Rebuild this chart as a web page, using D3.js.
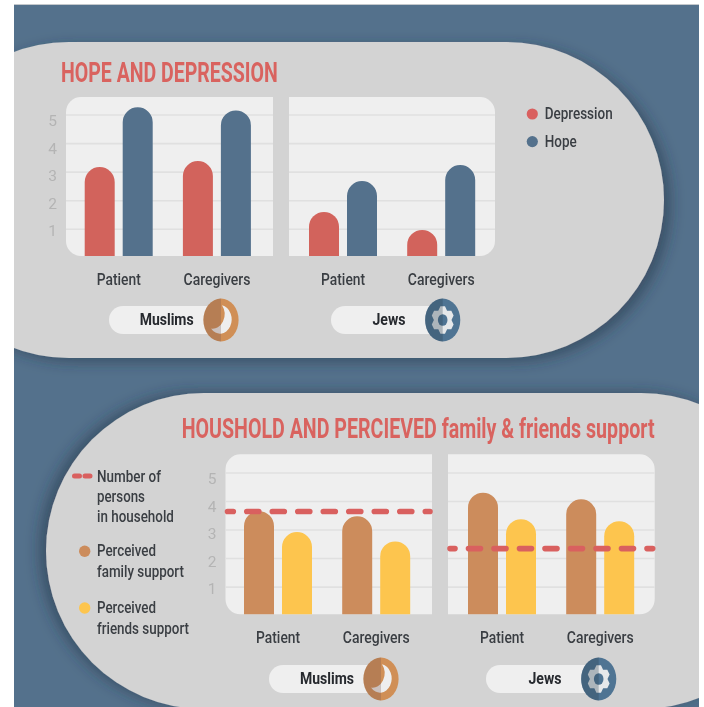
<!DOCTYPE html>
<html>
<head>
<meta charset="utf-8">
<title>Hope and depression</title>
<script src="https://cdn.jsdelivr.net/npm/d3@7"></script>
<style>
  html, body { margin: 0; padding: 0; background: #fff; }
  svg { display: block; filter: blur(0.45px); }
  text { font-family: Roboto, sans-serif; }
</style>
</head>
<body>
<div id="canvas"></div>
<script>
"use strict"

/* Data */
let groups = ["Patient", "Caregivers"];
let yTicks = [1, 2, 3, 4, 5];

let depressionMuslims = [3.18, 3.39];
let hopeMuslims = [5.27, 5.16];
let depressionJews = [1.61, 0.98];
let hopeJews = [2.69, 3.25];

let familyMuslims = [3.66, 3.48];
let friendsMuslims = [2.93, 2.6];
let familyJews = [4.31, 4.08];
let friendsJews = [3.38, 3.31];
let householdMuslims = 3.65;
let householdJews = 2.35;

/* Colours */
let blue = "#54718c";
let red = "#d2635c";
let dashRed = "#d9605f";
let brown = "#cc8c5c";
let yellow = "#fdc54e";
let gray = "#d3d3d3";
let light = "#efefef";
let gridColor = "#e0e0e0";
let labelColor = "#3a3e43";

/* Drawing canvas */
let svgWidth = 704;
let svgHeight = 707;

let svg = d3.select("#canvas")
    .append("svg")
    .attr("width", svgWidth)
    .attr("height", svgHeight);

let defs = svg.append("defs");

defs.append("clipPath").attr("id", "bgClip")
    .append("rect")
    .attr("x", 14).attr("y", 5)
    .attr("width", 685).attr("height", 702);

// soft shadows under the two big gray shapes
function addShadow(id, dx, dy) {
    let f = defs.append("filter").attr("id", id)
        .attr("x", "-10%").attr("y", "-15%")
        .attr("width", "120%").attr("height", "130%");
    f.append("feDropShadow")
        .attr("dx", dx).attr("dy", dy)
        .attr("stdDeviation", 7)
        .attr("flood-color", "#1f3242")
        .attr("flood-opacity", 0.5);
}
addShadow("shadowTop", 7, 4);
addShadow("shadowBottom", -7, -1);

/* Background */
svg.append("rect")
    .attr("x", 14).attr("y", 4)
    .attr("width", 685).attr("height", 1.5)
    .attr("fill", "#c4c8cc");

svg.append("rect")
    .attr("x", 14).attr("y", 5)
    .attr("width", 685).attr("height", 702)
    .attr("fill", blue);

let bg = svg.append("g").attr("clip-path", "url(#bgClip)");

bg.append("rect")
    .attr("x", -89).attr("y", 42)
    .attr("width", 753).attr("height", 316)
    .attr("rx", 158)
    .attr("fill", gray)
    .attr("filter", "url(#shadowTop)");

bg.append("rect")
    .attr("x", 46).attr("y", 393)
    .attr("width", 753).attr("height", 316)
    .attr("rx", 158)
    .attr("fill", gray)
    .attr("filter", "url(#shadowBottom)");

/* Text helper: the source font is narrow, so each text is squeezed to its width */
function addText(x, y, str, size, color, width, weight) {
    let t = svg.append("text")
        .attr("font-size", size)
        .attr("fill", color)
        .attr("font-weight", weight || 500)
        .text(str);
    let natural = t.node().getComputedTextLength();
    t.attr("transform", "translate(" + x + "," + y + ") scale(" + (width / natural) + ",1)");
    return t;
}

/* Bar with a round top and a flat bottom */
function barPath(x, w, top, bottom) {
    let r = w / 2;
    return "M" + x + "," + bottom
        + "V" + (top + r)
        + "A" + r + "," + r + " 0 0 1 " + (x + w) + "," + (top + r)
        + "V" + bottom + "Z";
}

/* Panel with two rounded corners on one side */
function panelPath(x0, x1, y0, y1, side) {
    let r = 15;
    if (side === "left") {
        return "M" + x1 + "," + y0 + "H" + (x0 + r)
            + "A" + r + "," + r + " 0 0 0 " + x0 + "," + (y0 + r)
            + "V" + (y1 - r)
            + "A" + r + "," + r + " 0 0 0 " + (x0 + r) + "," + y1
            + "H" + x1 + "Z";
    }
    return "M" + x0 + "," + y0 + "H" + (x1 - r)
        + "A" + r + "," + r + " 0 0 1 " + x1 + "," + (y0 + r)
        + "V" + (y1 - r)
        + "A" + r + "," + r + " 0 0 1 " + (x1 - r) + "," + y1
        + "H" + x0 + "Z";
}

/* One chart panel: background, gridlines, grouped bars, group labels */
function drawPanel(opt) {
    let yScale = d3.scaleLinear().domain([0, 5]).range([opt.y0, opt.y5]);

    svg.append("path")
        .attr("d", panelPath(opt.x0, opt.x1, opt.top, opt.bottom, opt.side))
        .attr("fill", light);

    svg.selectAll(null)
        .data(yTicks)
        .join("line")
        .attr("x1", opt.x0)
        .attr("x2", opt.x1)
        .attr("y1", d => yScale(d))
        .attr("y2", d => yScale(d))
        .attr("stroke", gridColor)
        .attr("stroke-width", 1.6);

    let xScale = d3.scaleBand()
        .domain(groups)
        .range([opt.groupStart, opt.groupStart + 196.4]);

    let subScale = d3.scaleBand()
        .domain([0, 1])
        .range([15, 83])
        .paddingInner(8 / 38);

    groups.forEach(function(g, i) {
        [opt.first, opt.second].forEach(function(series, s) {
            svg.append("path")
                .attr("d", barPath(xScale(g) + subScale(s), subScale.bandwidth(),
                    yScale(series.values[i]), opt.bottom))
                .attr("fill", series.color);
        });
        let w = g === "Patient" ? 44 : 67;
        addText(xScale(g) + xScale.bandwidth() / 2 - w / 2, opt.labelY, g, 16.5, labelColor, w);
    });

    // household line, round ends make the dashes longer
    if (opt.line !== undefined) {
        svg.append("line")
            .attr("x1", opt.x0 + 2)
            .attr("x2", opt.x1 - 2)
            .attr("y1", yScale(opt.line))
            .attr("y2", yScale(opt.line))
            .attr("stroke", dashRed)
            .attr("stroke-width", 5.6)
            .attr("stroke-linecap", "round")
            .attr("stroke-dasharray", "12 13.5")
            .attr("stroke-dashoffset", opt.dashOffset);
    }

    return yScale;
}

/* Y axis numbers have their own, slightly tighter spacing than the gridlines */
function drawAxis(axisX, y1, y5) {
    let labelScale = d3.scaleLinear().domain([1, 5]).range([y1, y5]);

    let axis = d3.axisLeft(labelScale)
        .tickValues(yTicks)
        .tickSize(0)
        .tickPadding(9)
        .tickFormat(d3.format("d"));

    let g = svg.append("g")
        .attr("transform", "translate(" + axisX + ",0)")
        .call(axis);

    g.select(".domain").remove();
    g.selectAll("text")
        .attr("font-size", 15.5)
        .attr("font-family", "Roboto, sans-serif")
        .attr("fill", "#b4b4b4");
}

/* Pill with the crescent or the gear on its right end */
function drawPill(x0, iconX, iconY, label, labelX, labelW, kind) {
    svg.append("rect")
        .attr("x", x0)
        .attr("y", iconY - 14)
        .attr("width", iconX - x0)
        .attr("height", 28)
        .attr("rx", 14)
        .attr("fill", light);

    addText(labelX - labelW / 2, iconY + 5, label, 16, "#26292e", labelW, 700);

    let icon = svg.append("g")
        .attr("transform", "translate(" + iconX + "," + iconY + ") scale(1,1.22)");

    icon.append("circle")
        .attr("r", 17.6)
        .attr("fill", kind === "moon" ? "#d08f56" : "#4f7493");

    if (kind === "moon") {
        icon.append("path")
            .attr("d", "M1,-12 A11.7,11.7 0 1 1 -10,7 A11.8,11.8 0 0 0 1,-12Z")
            .attr("fill", "#eeeeee");
    } else {
        // six blunt teeth around a hole
        let gearPoints = d3.range(6).flatMap(function(i) {
            let a = i * Math.PI / 3;
            return [[a - 0.2, 11.5], [a + 0.2, 11.5], [a + 0.52, 8.8]];
        });
        icon.append("path")
            .attr("d", d3.lineRadial().curve(d3.curveLinearClosed)(gearPoints))
            .attr("fill", "#e6e8ea");
        icon.append("circle")
            .attr("r", 4.8)
            .attr("fill", "#4f7493");
    }

    // darker left half of the icon
    icon.append("path")
        .attr("d", "M0,-17.6 A17.6,17.6 0 0 0 0,17.6Z")
        .attr("fill", kind === "moon" ? "#7a5a50" : "#2c3f50")
        .attr("fill-opacity", 0.3);
}

/**** Top chart ****/
addText(61, 81.5, "HOPE AND DEPRESSION", 27, "#d9635f", 217, 700);

drawPanel({
    x0: 66, x1: 273, top: 97, bottom: 256, y0: 257.9, y5: 115,
    side: "left", groupStart: 69.7, labelY: 284.5,
    first: {values: depressionMuslims, color: red},
    second: {values: hopeMuslims, color: blue}
});

drawPanel({
    x0: 289, x1: 495, top: 97, bottom: 256, y0: 257.9, y5: 115,
    side: "right", groupStart: 294, labelY: 284.5,
    first: {values: depressionJews, color: red},
    second: {values: hopeJews, color: blue}
});

drawAxis(66, 231, 120.5);

drawPill(109, 221, 320, "Muslims", 166.7, 54, "moon");
drawPill(331, 442.7, 320, "Jews", 389, 33, "gear");

// legend
svg.append("circle").attr("cx", 532.3).attr("cy", 114).attr("r", 5.6).attr("fill", dashRed);
svg.append("circle").attr("cx", 532.3).attr("cy", 141.6).attr("r", 5.6).attr("fill", blue);
addText(544.7, 119, "Depression", 16.5, labelColor, 68);
addText(544.7, 146.5, "Hope", 16.5, labelColor, 32);

/**** Bottom chart ****/
addText(181.7, 437.5, "HOUSHOLD AND PERCIEVED family & friends support", 27, "#d9635f", 473, 700);

drawPanel({
    x0: 225.5, x1: 432, top: 454.3, bottom: 614.3, y0: 615.6, y5: 473,
    side: "left", groupStart: 229, labelY: 642.5,
    first: {values: familyMuslims, color: brown},
    second: {values: friendsMuslims, color: yellow},
    line: householdMuslims, dashOffset: 6.2
});

drawPanel({
    x0: 448, x1: 654.7, top: 454.3, bottom: 614.3, y0: 615.6, y5: 473,
    side: "right", groupStart: 453, labelY: 642.5,
    first: {values: familyJews, color: brown},
    second: {values: friendsJews, color: yellow},
    line: householdJews, dashOffset: 7
});

drawAxis(225.5, 589, 479);

drawPill(269, 381, 679, "Muslims", 327, 54, "moon");
drawPill(486, 598.7, 679, "Jews", 545, 33, "gear");

// legend
svg.append("line")
    .attr("x1", 74.5).attr("x2", 90)
    .attr("y1", 476).attr("y2", 476)
    .attr("stroke", dashRed)
    .attr("stroke-width", 5)
    .attr("stroke-linecap", "round")
    .attr("stroke-dasharray", "5 5.5");
svg.append("circle").attr("cx", 84.7).attr("cy", 551.3).attr("r", 5.7).attr("fill", brown);
svg.append("circle").attr("cx", 84.7).attr("cy", 608).attr("r", 5.7).attr("fill", yellow);

addText(97, 481.5, "Number of", 16.5, labelColor, 64);
addText(97, 502, "persons", 16.5, labelColor, 48);
addText(97, 522, "in household", 16.5, labelColor, 77);
addText(97, 556, "Perceived", 16.5, labelColor, 59);
addText(97, 577, "family support", 16.5, labelColor, 87);
addText(97, 613, "Perceived", 16.5, labelColor, 59);
addText(97, 634, "friends support", 16.5, labelColor, 92);
</script>
</body>
</html>
